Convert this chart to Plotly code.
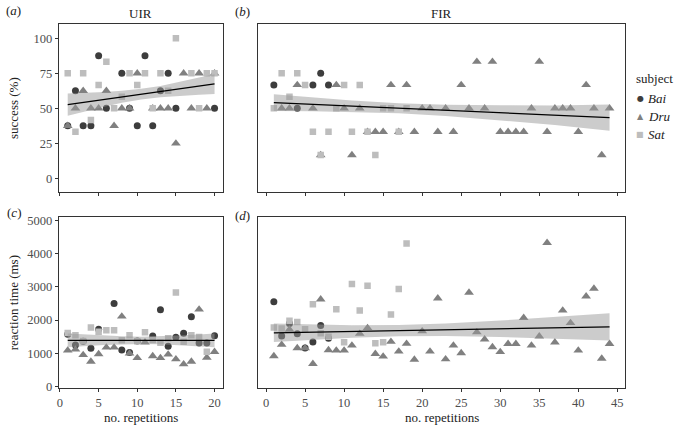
import plotly.graph_objects as go

FONT = "Liberation Serif"

# ---------------- data ----------------
# (a) UIR success (%)
uir_succ_bai_x = [1, 2, 3, 4, 5, 6, 8, 9, 10, 11, 12, 13, 14, 15, 20]
uir_succ_bai_y = [37.5, 62.5, 37.5, 37.5, 87.5, 50, 75, 50, 37.5, 87.5, 37.5, 62.5, 75, 50, 50]
uir_succ_dru_x = [1, 2, 3, 4, 5, 6, 7, 8, 9, 10, 12, 13, 14, 15, 16, 17, 18, 19, 20]
uir_succ_dru_y = [37.5, 50, 62.5, 50, 50, 62.5, 37.5, 50, 50, 75, 50, 50, 50, 25, 75, 50, 75, 50, 75]
uir_succ_sat_x = [1, 2, 3, 4, 5, 6, 7, 8, 9, 10, 11, 12, 13, 14, 15, 17, 18, 19, 20]
uir_succ_sat_y = [75, 33.3, 75, 41.7, 66.7, 83.3, 50, 58.3, 75, 66.7, 75, 50, 75, 62.5, 100, 75, 50, 75, 75]

# (b) FIR success (%)
fir_succ_bai_x = [1, 4, 6, 7, 8]
fir_succ_bai_y = [66.7, 50, 66.7, 75, 66.7]
fir_succ_dru_x = [2, 3, 4, 6, 7, 9, 10, 11, 12, 13, 14, 15, 16, 17, 18, 19, 20, 21, 22, 23, 24, 25,
                  26, 27, 28, 29, 30, 31, 32, 33, 34, 35, 36, 37, 38, 39, 40, 41, 42, 43, 44]
fir_succ_dru_y = [50, 50, 66.7, 50, 16.7, 66.7, 50, 16.7, 50, 33.3, 33.3, 33.3, 66.7, 33.3, 66.7, 33.3,
                  50, 50, 33.3, 50, 33.3, 66.7, 50, 83.3, 50, 83.3, 33.3, 33.3, 33.3, 33.3, 50, 83.3,
                  33.3, 50, 50, 50, 33.3, 66.7, 50, 16.7, 50]
fir_succ_sat_x = [1, 2, 3, 4, 5, 6, 7, 8, 9, 10, 11, 12, 13, 14, 15, 16, 17, 18]
fir_succ_sat_y = [50, 75, 58.3, 75, 66.7, 33.3, 16.7, 33.3, 50, 66.7, 33.3, 66.7, 33.3, 16.7, 50, 50, 33.3, 50]

# (c) UIR reaction time (ms)
uir_rt_bai_x = [1, 2, 3, 4, 5, 7, 8, 9, 10, 12, 13, 14, 15, 16, 17, 18, 19, 20]
uir_rt_bai_y = [1570, 1250, 1360, 1150, 1720, 2500, 1100, 1020, 1370, 1520, 2310, 1210, 1480, 1600,
                2100, 1310, 1310, 1530]
uir_rt_dru_x = list(range(1, 21))
uir_rt_dru_y = [1085, 1115, 950, 750, 975, 1175, 1175, 2110, 995, 860, 1330, 915, 860, 965, 820,
                670, 750, 2320, 870, 1045]
uir_rt_sat_x = list(range(1, 20))
uir_rt_sat_y = [1610, 1540, 1370, 1775, 1650, 1695, 1695, 1390, 1540, 1360, 1630, 1400, 1320, 1450,
                2830, 1350, 1540, 1490, 1045]

# (d) FIR reaction time (ms)
fir_rt_bai_x = [1, 2, 3, 4, 5, 6, 7, 8]
fir_rt_bai_y = [2555, 1520, 1900, 1590, 1160, 1340, 1835, 1450]
fir_rt_dru_x = list(range(1, 45))
fir_rt_dru_y = [915, 1260, 1715, 1155, 1155, 680, 2625, 1095, 1085, 1085, 1235, 1590, 1765, 985,
                905, 1350, 1055, 1290, 810, 1665, 1055, 2655, 820, 1235, 1005, 2830, 1635, 1420,
                1185, 1040, 1285, 1285, 2070, 1235, 1510, 4330, 1330, 2290, 1915, 1085, 2715,
                2950, 840, 1285]
fir_rt_sat_x = list(range(1, 19))
fir_rt_sat_y = [1775, 1745, 1980, 1945, 1725, 2475, 1600, 1500, 2325, 1330, 3085, 2290, 3035, 1300,
                1330, 2170, 2940, 4310]

# fitted linear trends and 95% bands
uir_succ_fit_x = [1, 20]
uir_succ_fit_y = [52.7, 67.4]
uir_succ_band_x = [1, 3, 5.75, 8, 10.5, 13, 15.25, 18, 20]
uir_succ_band_lo = [44.8, 47.6, 51.2, 54.0, 56.3, 57.9, 58.9, 59.8, 60.3]
uir_succ_band_hi = [60.6, 60.9, 61.6, 62.6, 64.0, 66.0, 68.9, 72.0, 74.3]

fir_succ_fit_x = [1, 44]
fir_succ_fit_y = [54.1, 43.4]
fir_succ_band_x = [1, 6, 11, 17, 23, 30, 37, 44]
fir_succ_band_lo = [48.1, 48.0, 47.6, 46.5, 44.6, 41.6, 38.1, 34.1]
fir_succ_band_hi = [60.1, 57.7, 55.6, 53.7, 52.6, 52.2, 52.1, 52.7]

uir_rt_fit_x = [1, 20]
uir_rt_fit_y = [1390, 1390]
uir_rt_band_x = [1, 3, 5.75, 8, 10.5, 13, 15.25, 18, 20]
uir_rt_band_lo = [1182, 1212, 1247, 1270, 1282, 1270, 1247, 1212, 1182]
uir_rt_band_hi = [1598, 1568, 1533, 1510, 1498, 1510, 1533, 1568, 1598]

fir_rt_fit_x = [1, 44]
fir_rt_fit_y = [1617, 1796]
fir_rt_band_x = [1, 6, 11, 17, 23, 30, 37, 44]
fir_rt_band_lo = [1336, 1410, 1471, 1516, 1521, 1491, 1441, 1383]
fir_rt_band_hi = [1898, 1866, 1847, 1852, 1897, 1985, 2093, 2209]

subjects = ["Bai", "Dru", "Sat"]
success_ticks = [0, 25, 50, 75, 100]
rt_ticks = [0, 1000, 2000, 3000, 4000, 5000]
uir_xticks = [0, 5, 10, 15, 20]
fir_xticks = [0, 5, 10, 15, 20, 25, 30, 35, 40, 45]

# ---------------- styles ----------------
STY = {
    "Bai": dict(symbol="circle", size=7, color="#3d3d3d"),
    "Dru": dict(symbol="triangle-up", size=8.5, color="#808080"),
    "Sat": dict(symbol="square", size=6.5, color="#bdbdbd"),
}
AX = "#333333"

fig = go.Figure()

panels = [
    ("x", "y",
     [(uir_succ_bai_x, uir_succ_bai_y), (uir_succ_dru_x, uir_succ_dru_y), (uir_succ_sat_x, uir_succ_sat_y)],
     (uir_succ_fit_x, uir_succ_fit_y, uir_succ_band_x, uir_succ_band_lo, uir_succ_band_hi)),
    ("x2", "y2",
     [(fir_succ_bai_x, fir_succ_bai_y), (fir_succ_dru_x, fir_succ_dru_y), (fir_succ_sat_x, fir_succ_sat_y)],
     (fir_succ_fit_x, fir_succ_fit_y, fir_succ_band_x, fir_succ_band_lo, fir_succ_band_hi)),
    ("x3", "y3",
     [(uir_rt_bai_x, uir_rt_bai_y), (uir_rt_dru_x, uir_rt_dru_y), (uir_rt_sat_x, uir_rt_sat_y)],
     (uir_rt_fit_x, uir_rt_fit_y, uir_rt_band_x, uir_rt_band_lo, uir_rt_band_hi)),
    ("x4", "y4",
     [(fir_rt_bai_x, fir_rt_bai_y), (fir_rt_dru_x, fir_rt_dru_y), (fir_rt_sat_x, fir_rt_sat_y)],
     (fir_rt_fit_x, fir_rt_fit_y, fir_rt_band_x, fir_rt_band_lo, fir_rt_band_hi)),
]

for xa, ya, series, (fx, fy, bx, blo, bhi) in panels:
    for subj, (xs, ys) in zip(subjects, series):
        st = STY[subj]
        fig.add_trace(go.Scatter(
            x=xs, y=ys, mode="markers", xaxis=xa, yaxis=ya, showlegend=False,
            marker=dict(symbol=st["symbol"], size=st["size"], color=st["color"], line=dict(width=0)),
            hoverinfo="skip"))
    fig.add_trace(go.Scatter(
        x=list(bx) + list(bx)[::-1], y=list(bhi) + list(blo)[::-1],
        fill="toself", fillcolor="rgba(153,153,153,0.5)", line=dict(width=0),
        mode="lines", xaxis=xa, yaxis=ya, showlegend=False, hoverinfo="skip"))
    fig.add_trace(go.Scatter(
        x=fx, y=fy, mode="lines", line=dict(color="black", width=1.3),
        xaxis=xa, yaxis=ya, showlegend=False, hoverinfo="skip"))

W, H = 677, 431
xa_dom = [57 / W, 221.7 / W]
xb_dom = [257 / W, 625 / W]
ya_dom = [1 - 193 / H, 1 - 21.7 / H]
yc_dom = [1 - 392.7 / H, 1 - 218.3 / H]

tickfont = dict(family=FONT, size=12.5, color="#4d4d4d")
common = dict(showline=True, mirror=True, linecolor=AX, linewidth=1, showgrid=False,
              zeroline=False, tickfont=tickfont, tickcolor=AX, ticklen=3, tickwidth=1)

fig.update_layout(
    width=W, height=H, margin=dict(l=0, r=0, t=0, b=0),
    paper_bgcolor="white", plot_bgcolor="white",
    font=dict(family=FONT, color="#222"),
    xaxis=dict(domain=xa_dom, anchor="y", range=[-0.15, 21.1], tickvals=uir_xticks,
               showticklabels=False, ticks="outside", **common),
    yaxis=dict(domain=ya_dom, anchor="x", range=[-10, 110], tickvals=success_ticks,
               ticks="outside", **common),
    xaxis2=dict(domain=xb_dom, anchor="y2", range=[-1.0, 46.0], tickvals=fir_xticks,
                showticklabels=False, ticks="outside", **common),
    yaxis2=dict(domain=ya_dom, anchor="x2", range=[-10, 110], tickvals=success_ticks,
                showticklabels=False, ticks="", **common),
    xaxis3=dict(domain=xa_dom, anchor="y3", range=[-0.15, 21.1], tickvals=uir_xticks,
                ticks="outside", **common),
    yaxis3=dict(domain=yc_dom, anchor="x3", range=[-60, 5100], tickvals=rt_ticks,
                ticks="outside", **common),
    xaxis4=dict(domain=xb_dom, anchor="y4", range=[-1.0, 46.0], tickvals=fir_xticks,
                ticks="outside", **common),
    yaxis4=dict(domain=yc_dom, anchor="x4", range=[-60, 5100], tickvals=rt_ticks,
                showticklabels=False, ticks="", **common),
    showlegend=False,
)


def px(x):
    return x / W


def py(y):
    return 1 - y / H


def note(text, x, y, xanchor="center", font=None, **kw):
    return dict(text=text, x=px(x), y=py(y), xref="paper", yref="paper", xanchor=xanchor,
                yanchor="middle", showarrow=False, font=font or txt, **kw)


ann = []
txt = dict(family=FONT, size=13, color="#222")
ann.append(note("UIR", 139, 11))
ann.append(note("FIR", 441, 11))
for lab, xx, yy in [("a", 12, 8), ("b", 241, 9), ("c", 12, 213), ("d", 241, 217)]:
    ann.append(note("(<i>%s</i>)" % lab, xx, yy))
ann.append(note("success (%)", 11, 107, textangle=-90))
ann.append(note("reaction time (ms)", 11, 305, textangle=-90))
ann.append(note("no. repetitions", 139, 422))
ann.append(note("no. repetitions", 441, 422))

# legend
ann.append(note("subject", 634, 77, xanchor="left"))
leg_glyph = {"Bai": ("●", 8), "Dru": ("▲", 8), "Sat": ("■", 8)}
for i, subj in enumerate(subjects):
    yy = 97 + i * 18.5
    g, fs = leg_glyph[subj]
    ann.append(note(g, 640, yy, font=dict(family="DejaVu Sans", size=fs, color=STY[subj]["color"])))
    ann.append(note("<i>%s</i>" % subj, 646, yy, xanchor="left"))

fig.update_layout(annotations=ann)
fig.write_html("out.html", config={"displayModeBar": False},
               post_script="document.body.style.margin='0px';document.body.style.overflow='hidden';")
